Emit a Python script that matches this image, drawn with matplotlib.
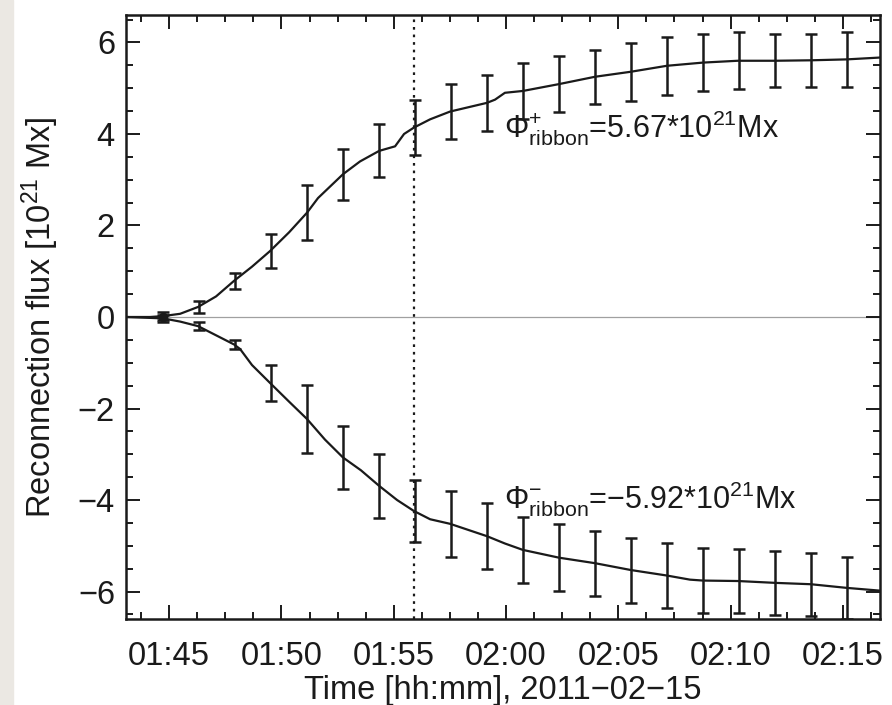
import matplotlib
matplotlib.use('Agg')
import matplotlib.pyplot as plt
from matplotlib.ticker import MultipleLocator
from matplotlib.patches import Rectangle

plt.rcParams['font.family'] = ['Liberation Sans', 'DejaVu Sans']
plt.rcParams['mathtext.fontset'] = 'custom'
plt.rcParams['mathtext.rm'] = 'Liberation Sans'
plt.rcParams['mathtext.it'] = 'Liberation Sans'

# time in minutes after 01:45 UT
line_t = [-1.91, -0.85, -0.27, 0.49, 1.29, 2.09, 2.89, 3.69, 4.49, 5.34, 6.14, 6.63, 7.74, 8.50,
          9.35, 10.06, 10.46, 10.90, 11.62, 12.51, 14.15, 14.51, 14.95, 15.75, 17.36, 18.96,
          20.56, 22.16, 23.77, 25.32, 26.97, 28.57, 30.17, 31.64]
line_pos = [0.0, 0.0, 0.02, 0.07, 0.22, 0.45, 0.79, 1.10, 1.44, 1.85, 2.28, 2.60, 3.12, 3.40,
            3.63, 3.73, 4.00, 4.14, 4.32, 4.49, 4.68, 4.75, 4.90, 4.94, 5.09, 5.25,
            5.36, 5.49, 5.56, 5.60, 5.60, 5.61, 5.63, 5.67]

line_t2 = [-1.91, -0.27, 0.49, 1.29, 2.09, 2.89, 3.16, 3.69, 4.49, 5.34, 6.14, 6.94, 7.74, 8.54,
           9.35, 10.15, 10.90, 11.62, 12.51, 14.15, 14.95, 15.75, 17.36, 18.96, 20.56, 22.16,
           23.19, 23.77, 25.32, 26.97, 28.57, 30.17, 31.64]
line_neg = [0.0, -0.03, -0.10, -0.20, -0.40, -0.60, -0.70, -1.05, -1.44, -1.85, -2.23, -2.68,
            -3.07, -3.35, -3.69, -4.00, -4.24, -4.42, -4.52, -4.79, -4.95, -5.09, -5.26, -5.38,
            -5.53, -5.65, -5.74, -5.76, -5.77, -5.81, -5.84, -5.92, -5.98]

err_t = [-0.27, 1.33, 2.94, 4.54, 6.14, 7.75, 9.35, 10.95, 12.55, 14.15, 15.76, 17.36,
         18.96, 20.56, 22.16, 23.77, 25.37, 26.97, 28.57, 30.17]
err_pos = [0.02, 0.22, 0.79, 1.44, 2.28, 3.12, 3.63, 4.14, 4.49, 4.68, 4.94, 5.09,
           5.25, 5.36, 5.49, 5.56, 5.60, 5.60, 5.61, 5.63]
sig_pos = [0.08, 0.13, 0.18, 0.37, 0.60, 0.56, 0.58, 0.60, 0.61, 0.61, 0.62, 0.61,
           0.59, 0.63, 0.63, 0.62, 0.62, 0.58, 0.58, 0.60]
err_neg = [-0.03, -0.20, -0.60, -1.44, -2.23, -3.07, -3.69, -4.24, -4.52, -4.79, -5.09, -5.26,
           -5.38, -5.53, -5.65, -5.76, -5.77, -5.81, -5.84, -5.92]
sig_neg = [0.08, 0.08, 0.10, 0.40, 0.74, 0.69, 0.70, 0.68, 0.72, 0.72, 0.73, 0.73,
           0.71, 0.71, 0.71, 0.71, 0.70, 0.70, 0.69, 0.68]

tick_pos = [0, 5, 10, 15, 20, 25, 30]
tick_lab = ['01:45', '01:50', '01:55', '02:00', '02:05', '02:10', '02:15']
t_peak = 10.92

fig = plt.figure(figsize=(8.92, 7.05), dpi=100)
fig.patches.append(Rectangle((0, 0), 13 / 892, 1, transform=fig.transFigure,
                             color='#ebe8e3', zorder=-1))
ax = fig.add_axes([126 / 892, 1 - 619 / 705, (880 - 126) / 892, (619 - 15) / 705])

col = '#1a1a1a'
ax.axhline(0, color='#a0a0a0', lw=0.9, zorder=1)
ax.axvline(t_peak, color=col, lw=1.6, ls=(0, (1.2, 2.2)), zorder=2)
ax.plot(line_t, line_pos, color=col, lw=1.6, zorder=3)
ax.plot(line_t2, line_neg, color=col, lw=1.6, zorder=3)
ax.errorbar(err_t, err_pos, yerr=sig_pos, fmt='none', ecolor=col, elinewidth=1.8,
            capsize=4, capthick=1.8, zorder=4)
ax.errorbar(err_t, err_neg, yerr=sig_neg, fmt='none', ecolor=col, elinewidth=1.8,
            capsize=4, capthick=1.8, zorder=4)
ax.plot([err_t[0]], [0.0], 'o', color=col, ms=6, zorder=5)

ax.text(14.9, 4.13, r'$\Phi^{+}_{\mathrm{ribbon}}$=5.67*10$^{21}$Mx', fontsize=22,
        va='center', ha='left', color=col)
ax.text(14.9, -3.98, r'$\Phi^{-}_{\mathrm{ribbon}}$=$-$5.92*10$^{21}$Mx', fontsize=22,
        va='center', ha='left', color=col)

ax.set_xlim(-1.92, 31.65)
ax.set_ylim(-6.6, 6.6)
ax.set_xticks(tick_pos)
ax.set_xticklabels(tick_lab)
ax.xaxis.set_minor_locator(MultipleLocator(1.25))
ax.yaxis.set_minor_locator(MultipleLocator(0.5))
ax.set_yticks([-6, -4, -2, 0, 2, 4, 6])
ax.set_yticklabels(['\u22126', '\u22124', '\u22122', '0', '2', '4', '6'])
ax.tick_params(which='both', direction='in', top=True, right=True, colors=col,
               labelsize=23.5, width=1.4)
ax.tick_params(which='major', length=10)
ax.tick_params(which='minor', length=5)
ax.tick_params(axis='x', which='major', pad=16)
ax.tick_params(axis='y', which='major', pad=8)
for s in ax.spines.values():
    s.set_linewidth(1.8)
    s.set_color(col)

ax.set_xlabel('Time [hh:mm], 2011\u221202\u221215', fontsize=23.5, labelpad=2, color=col)
ax.set_ylabel(r'Reconnection flux [10$^{21}$ Mx]', fontsize=23.5, labelpad=12, color=col)

fig.savefig('out.png', dpi=100)
